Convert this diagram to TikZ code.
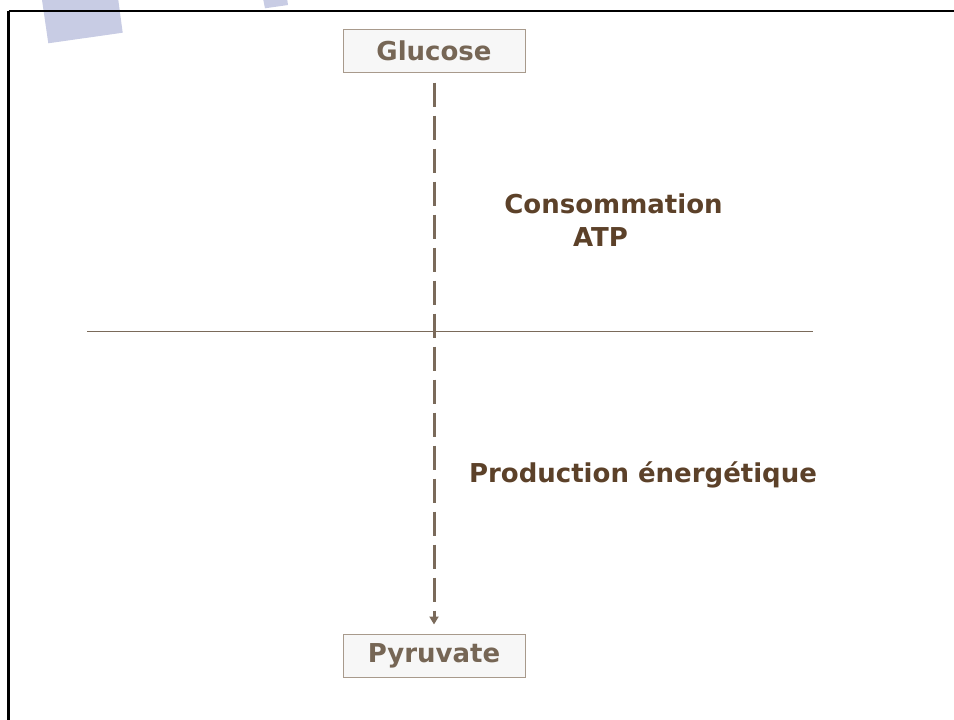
\documentclass[tikz,border=0pt]{standalone}
\usepackage{fontspec}
\setmainfont{DejaVu Sans}
\usetikzlibrary{arrows.meta}
\definecolor{deco}{HTML}{C8CCE4}
\definecolor{boxtext}{HTML}{766655}
\definecolor{boxline}{HTML}{A89A8C}
\definecolor{boxfill}{HTML}{F7F7F7}
\definecolor{flow}{HTML}{7A6A5A}
\definecolor{label}{HTML}{5C4129}
\tikzset{
  compound/.style={draw=boxline, line width=1pt, fill=boxfill, minimum width=182pt, minimum height=43pt, inner sep=0pt, text=boxtext, font=\fontsize{26}{30}\selectfont\bfseries},
  phase/.style={text=label, font=\fontsize{26}{30}\selectfont\bfseries, anchor=base, inner sep=0pt},
  flowline/.style={draw=flow, line width=3pt, dash pattern=on 24pt off 9pt, -{Triangle[length=8pt,width=9pt]}, shorten >=9pt, shorten <=10pt},
  divider/.style={draw=flow, line width=1pt}
}
\begin{document}
\begin{tikzpicture}[x=1pt,y=-1pt]
\useasboundingbox (0,0) rectangle (954,720);
\fill[deco] (42,0) -- (118.3,0) -- (122.7,32.7) -- (48.3,43.3) -- cycle;
\fill[deco] (263.3,0) -- (287.3,0) -- (288,5) -- (265,8.3) -- cycle;
\draw[black, line width=2.5pt] (8.5,11) -- (960,11);
\draw[black, line width=2.5pt] (8.5,11) -- (8.5,730);
\node[compound] (glucose) at (434,50.5) {Glucose};
\node[compound] (pyruvate) at (434,655.5) {Pyruvate};
\coordinate (divL) at (87,331);
\coordinate (divR) at (813,331);
\draw[divider] (divL) -- (divR);
\draw[flowline] (glucose.south) -- (pyruvate.north);
\node[phase] (conso) at (613.5,213) {Consommation};
\node[phase] (atp) at (600.5,246) {ATP};
\node[phase] (prod) at (643,482) {Production énergétique};
\end{tikzpicture}
\end{document}
